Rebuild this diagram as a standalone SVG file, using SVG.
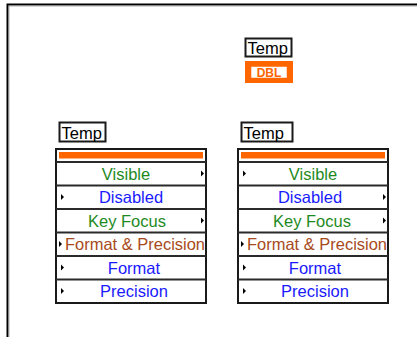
<svg xmlns="http://www.w3.org/2000/svg" width="417" height="337" viewBox="0 0 417 337">
<style>
.lbl{font-family:"Liberation Sans",Arial,sans-serif;font-size:16.5px;fill:#000}
.box{fill:#fff;stroke:#1a1a1a;stroke-width:2}
.sep{stroke:#2a2a2a;stroke-width:2}
.bar{fill:#ff6600}
.t{font-family:"Liberation Sans",Arial,sans-serif;font-size:16.5px;text-anchor:middle}
.g{fill:#1e8a1e}.b{fill:#1a1aff}.o{fill:#a84a20}
.ar{fill:#000}
</style>
<defs>
<path id="tri" d="M0,-3 L3,0 L0,3 Z"/>
</defs>
<path d="M7.5,337 V4.5 H417" fill="none" stroke="#000" stroke-width="2"/>
<path d="M9,337 V6 H417" fill="none" stroke="#999" stroke-width="0.8"/>

<g id="temp-terminal">
<rect x="245.5" y="38.5" width="46" height="18" class="box" stroke-width="1.2"/>
<text x="247.5" y="53.5" class="lbl">Temp</text>
<rect x="245" y="61" width="48" height="22" fill="#ff6600"/>
<rect x="250.5" y="66" width="37" height="12.5" fill="#fff" stroke="#ff6600" stroke-width="1.5"/>
<text x="269" y="77" font-family="Liberation Sans,Arial,sans-serif" font-size="12" font-weight="bold" fill="#ff6600" text-anchor="middle">DBL</text>
</g>

<g id="left-node">
<rect x="59.5" y="122.5" width="46" height="19" class="box" stroke-width="1.2"/>
<text x="61.5" y="138.5" class="lbl">Temp</text>
<rect x="56" y="149" width="150" height="154" class="box"/>
<rect x="59" y="152" width="144" height="6.5" class="bar"/>
<line x1="56" y1="162" x2="206" y2="162" class="sep"/>
<line x1="56" y1="185.5" x2="206" y2="185.5" class="sep"/>
<line x1="56" y1="209" x2="206" y2="209" class="sep"/>
<line x1="56" y1="232.5" x2="206" y2="232.5" class="sep"/>
<line x1="56" y1="256" x2="206" y2="256" class="sep"/>
<line x1="56" y1="279.5" x2="206" y2="279.5" class="sep"/>
<text x="126" y="179.5" class="t g">Visible</text>
<text x="131" y="203" class="t b">Disabled</text>
<text x="127" y="226.5" class="t g">Key Focus</text>
<text x="135" y="250" class="t o" textLength="140" lengthAdjust="spacingAndGlyphs">Format &amp; Precision</text>
<text x="134" y="273.5" class="t b">Format</text>
<text x="134" y="297" class="t b">Precision</text>
<use href="#tri" x="201" y="173.5" class="ar"/>
<use href="#tri" x="61" y="197" class="ar"/>
<use href="#tri" x="201" y="220.5" class="ar"/>
<use href="#tri" x="59" y="244" class="ar"/>
<use href="#tri" x="61" y="267.5" class="ar"/>
<use href="#tri" x="61" y="291" class="ar"/>
</g>

<g id="right-node">
<rect x="241.5" y="122.5" width="51" height="19" class="box" stroke-width="1.2"/>
<text x="243.5" y="138.5" class="lbl">Temp</text>
<rect x="238" y="149" width="150" height="154" class="box"/>
<rect x="241" y="152" width="144" height="6.5" class="bar"/>
<line x1="238" y1="162" x2="388" y2="162" class="sep"/>
<line x1="238" y1="185.5" x2="388" y2="185.5" class="sep"/>
<line x1="238" y1="209" x2="388" y2="209" class="sep"/>
<line x1="238" y1="232.5" x2="388" y2="232.5" class="sep"/>
<line x1="238" y1="256" x2="388" y2="256" class="sep"/>
<line x1="238" y1="279.5" x2="388" y2="279.5" class="sep"/>
<text x="313" y="179.5" class="t g">Visible</text>
<text x="310" y="203" class="t b">Disabled</text>
<text x="312" y="226.5" class="t g">Key Focus</text>
<text x="317" y="250" class="t o" textLength="140" lengthAdjust="spacingAndGlyphs">Format &amp; Precision</text>
<text x="315" y="273.5" class="t b">Format</text>
<text x="315" y="297" class="t b">Precision</text>
<use href="#tri" x="243" y="173.5" class="ar"/>
<use href="#tri" x="383" y="197" class="ar"/>
<use href="#tri" x="383" y="220.5" class="ar"/>
<use href="#tri" x="241" y="244" class="ar"/>
<use href="#tri" x="243" y="267.5" class="ar"/>
<use href="#tri" x="243" y="291" class="ar"/>
</g>

<g id="connectors"></g>
</svg>
